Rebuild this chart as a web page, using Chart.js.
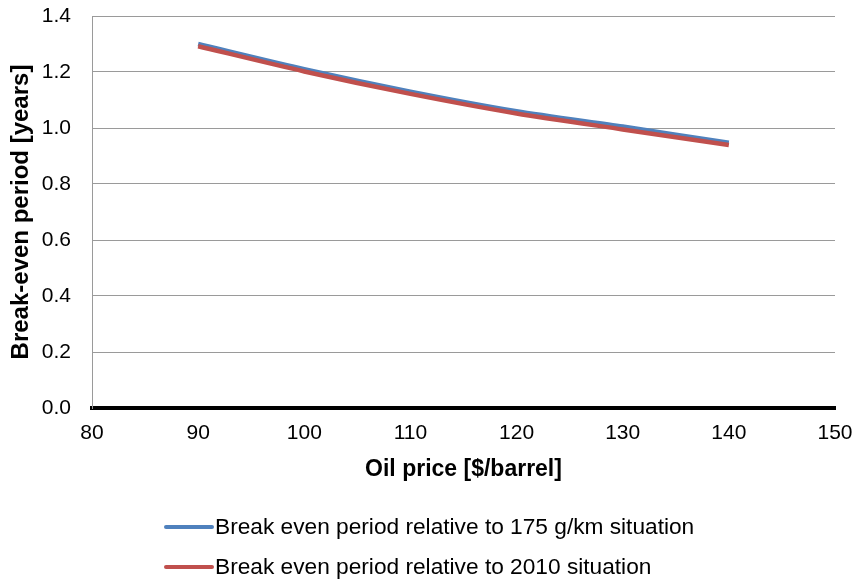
<!DOCTYPE html>
<html>
<head>
<meta charset="utf-8">
<script src="https://cdn.jsdelivr.net/npm/chart.js@4.4.0/dist/chart.umd.min.js"></script>
<style>
  html, body { margin: 0; padding: 0; background: #fff; }
  #wrap { width: 853px; height: 583px; }
</style>
</head>
<body>
<div id="wrap"><canvas id="breakEvenChart" width="853" height="583"></canvas></div>
<script>
// Oil price on x, break-even period on y
var oilPrices = [90, 100, 110, 120, 130, 140];
var breakEven175 = [1.30, 1.21, 1.13, 1.06, 1.005, 0.947];
var breakEven2010 = [1.292, 1.202, 1.122, 1.052, 0.995, 0.939];
var seriesNames = [
    'Break even period relative to 175 g/km situation',
    'Break even period relative to 2010 situation'
];
var yTicks = [0, 0.2, 0.4, 0.6, 0.8, 1.0, 1.2, 1.4];
var xTicks = [80, 90, 100, 110, 120, 130, 140, 150];

var FONT = "'Liberation Sans', Arial, sans-serif";

function toPoints(values) {
    return oilPrices.map(function (p, i) { return { x: p, y: values[i] }; });
}

// legend stacked under the axis, both rows starting at the same x
var stackedLegend = {
    id: 'stackedLegend',
    afterDraw: function (chart) {
        var ctx = chart.ctx;
        var rows = [527, 567];
        ctx.save();
        chart.data.datasets.forEach(function (ds, i) {
            var y = rows[i];
            ctx.strokeStyle = ds.borderColor;
            ctx.lineWidth = 4;
            ctx.lineCap = 'round';
            ctx.beginPath();
            ctx.moveTo(166, y);
            ctx.lineTo(212, y);
            ctx.stroke();
            ctx.fillStyle = '#000';
            ctx.font = '22.7px ' + FONT;
            ctx.textAlign = 'left';
            ctx.textBaseline = 'middle';
            ctx.fillText(ds.label, 215, y + 1);
        });
        ctx.restore();
    }
};

var ctx = document.getElementById('breakEvenChart').getContext('2d');
var chart = new Chart(ctx, {
    type: 'line',
    data: {
        datasets: [
            {
                label: seriesNames[0],
                data: toPoints(breakEven175),
                borderColor: '#4F81BD',
                borderWidth: 4.5,
                pointRadius: 0,
                tension: 0.25,
                order: 1
            },
            {
                label: seriesNames[1],
                data: toPoints(breakEven2010),
                borderColor: '#C0504D',
                borderWidth: 4.5,
                pointRadius: 0,
                tension: 0.25,
                order: 0
            }
        ]
    },
    options: {
        responsive: false,
        animation: false,
        layout: { padding: { left: 0, right: 18, top: 16, bottom: 100 } },
        plugins: {
            legend: { display: false },
            tooltip: { enabled: false }
        },
        scales: {
            x: {
                type: 'linear',
                min: xTicks[0],
                max: xTicks[xTicks.length - 1],
                afterBuildTicks: function (scale) {
                    scale.ticks = xTicks.map(function (v) { return { value: v }; });
                },
                afterFit: function (scale) {
                    scale.height = 75;
                    scale.paddingLeft = 0;
                    scale.paddingRight = 0;
                },
                grid: { display: false, drawTicks: false },
                border: { display: true, color: '#000', width: 4 },
                ticks: {
                    padding: 13,
                    color: '#000',
                    font: { family: FONT, size: 21 },
                    maxRotation: 0
                },
                title: {
                    display: true,
                    text: 'Oil price [$/barrel]',
                    color: '#000',
                    font: { family: FONT, size: 23, weight: 'bold' },
                    padding: { top: 5, bottom: 0 }
                }
            },
            y: {
                min: yTicks[0],
                max: yTicks[yTicks.length - 1],
                afterBuildTicks: function (scale) {
                    scale.ticks = yTicks.map(function (v) { return { value: v }; });
                },
                afterFit: function (scale) {
                    scale.width = 92;
                    scale.paddingTop = 0;
                    scale.paddingBottom = 0;
                },
                grid: { color: '#9a9a9a', lineWidth: 1, drawTicks: false },
                border: { display: true, color: '#9a9a9a', width: 1 },
                ticks: {
                    padding: 21,
                    color: '#000',
                    font: { family: FONT, size: 21 },
                    callback: function (v) { return Number(v).toFixed(1); }
                },
                title: {
                    display: true,
                    text: 'Break-even period [years]',
                    color: '#000',
                    font: { family: FONT, size: 24, weight: 'bold' },
                    padding: { top: 7, bottom: 0 }
                }
            }
        }
    },
    plugins: [stackedLegend]
});
</script>
</body>
</html>
